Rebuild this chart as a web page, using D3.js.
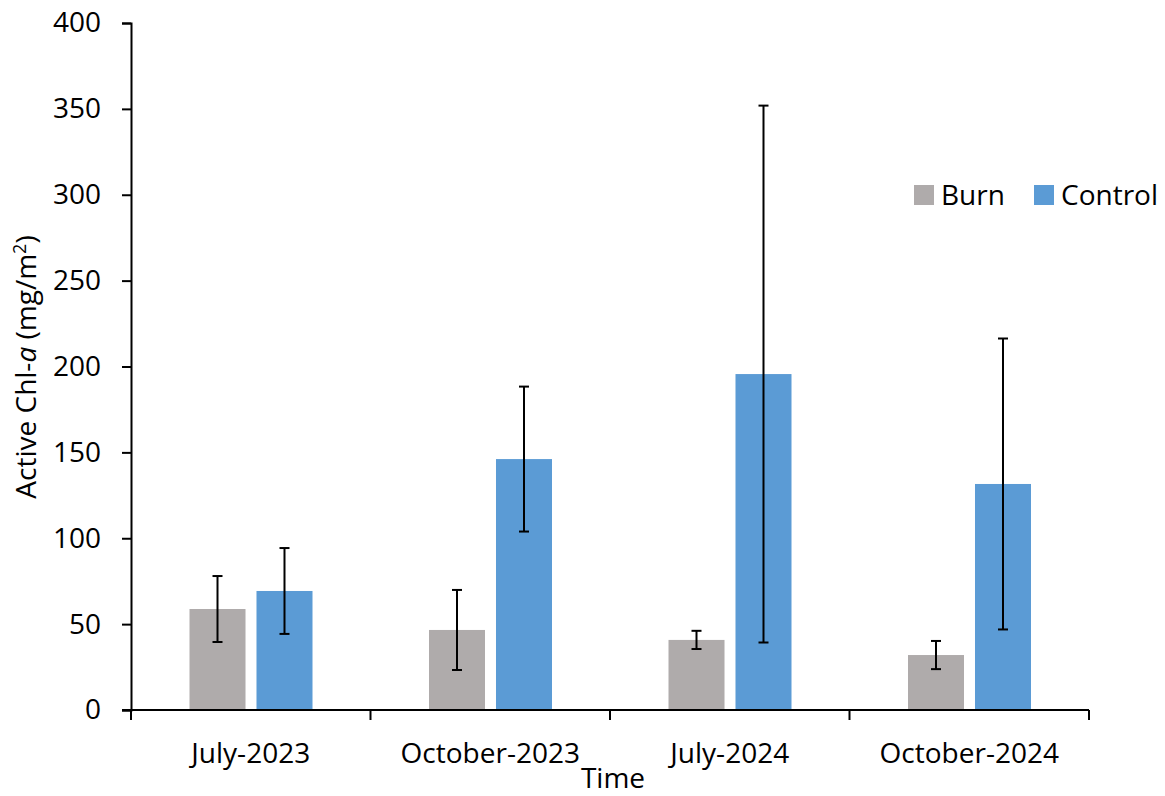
<!DOCTYPE html>
<html>
<head>
<meta charset="utf-8">
<script src="https://cdn.jsdelivr.net/npm/d3@7"></script>
<style>
  html, body { margin: 0; padding: 0; background: #fff; }
  svg { display: block; }
  text { font-family: "Open Sans", sans-serif; fill: #000; }
</style>
</head>
<body>
<svg id="chart" width="1165" height="796"></svg>
<script>
// Sampling times
const categories = ["July-2023", "October-2023", "July-2024", "October-2024"];
// Mean active chlorophyll-a (mg/m²) and standard deviations
const burnMean = [58.8, 46.6, 40.8, 32.0];
const burnSD = [19.2, 23.3, 5.3, 8.2];
const controlMean = [69.3, 146.1, 195.6, 131.6];
const controlSD = [25.0, 42.2, 156.3, 84.7];
const seriesNames = ["Burn", "Control"];
const seriesColors = ["#AFABAB", "#5B9BD5"];
const yTicks = [0, 50, 100, 150, 200, 250, 300, 350, 400];

const series = [
  { name: seriesNames[0], color: seriesColors[0], mean: burnMean, sd: burnSD },
  { name: seriesNames[1], color: seriesColors[1], mean: controlMean, sd: controlSD }
];

const FONT = 28;
const svg = d3.select("#chart");
const plot = { left: 131, right: 1089, top: 23, bottom: 710 };

const x = d3.scaleBand().domain(categories).range([plot.left, plot.right]).paddingInner(0).paddingOuter(0);
// Two bars per category, grouped in the middle of each band
const xInner = d3.scaleBand().domain(seriesNames).range([58.5, 181.5]).paddingInner(0.164).paddingOuter(0);
const y = d3.scaleLinear().domain([0, 400]).range([plot.bottom, plot.top]);

// Bars
series.forEach(s => {
  svg.append("g").selectAll("rect").data(categories).join("rect")
    .attr("x", (c) => x(c) + xInner(s.name))
    .attr("y", (c, i) => y(s.mean[i]))
    .attr("width", xInner.bandwidth())
    .attr("height", (c, i) => y(0) - y(s.mean[i]))
    .attr("fill", s.color);
});

// Error bars (± SD)
series.forEach(s => {
  const g = svg.append("g").attr("stroke", "#000").attr("stroke-width", 2);
  categories.forEach((c, i) => {
    const cx = x(c) + xInner(s.name) + xInner.bandwidth() / 2;
    const hi = y(s.mean[i] + s.sd[i]);
    const lo = y(s.mean[i] - s.sd[i]);
    g.append("line").attr("x1", cx).attr("x2", cx).attr("y1", hi).attr("y2", lo);
    g.append("line").attr("x1", cx - 5).attr("x2", cx + 5).attr("y1", hi).attr("y2", hi);
    g.append("line").attr("x1", cx - 5).attr("x2", cx + 5).attr("y1", lo).attr("y2", lo);
  });
});

// Y axis
const yAxis = svg.append("g")
  .attr("transform", `translate(${plot.left},0)`)
  .call(d3.axisLeft(y).tickValues(yTicks).tickSize(9).tickPadding(21));
yAxis.select(".domain").attr("stroke", "#000").attr("stroke-width", 2);
yAxis.selectAll(".tick line").attr("stroke", "#000").attr("stroke-width", 2);
yAxis.selectAll(".tick text").style("font-size", FONT + "px").style("font-family", "'Open Sans', sans-serif");

// X axis with boundary ticks between categories
const xAxis = svg.append("g").attr("transform", `translate(0,${plot.bottom})`);
xAxis.append("line").attr("x1", plot.left - 9).attr("x2", plot.right).attr("y1", 0).attr("y2", 0)
  .attr("stroke", "#000").attr("stroke-width", 2);
const bounds = categories.map(c => x(c)).concat([x(categories[categories.length - 1]) + x.bandwidth()]);
xAxis.selectAll("line.tk").data(bounds).join("line").attr("class", "tk")
  .attr("x1", d => d).attr("x2", d => d).attr("y1", 0).attr("y2", 10)
  .attr("stroke", "#000").attr("stroke-width", 2);
xAxis.selectAll("text").data(categories).join("text")
  .attr("x", c => x(c) + x.bandwidth() / 2)
  .attr("y", 53)
  .attr("text-anchor", "middle")
  .style("font-size", FONT + "px")
  .text(c => c);

// Axis titles
svg.append("text").attr("x", 613).attr("y", 788)
  .attr("text-anchor", "middle").style("font-size", FONT + "px").text("Time");

const yt = svg.append("text")
  .attr("transform", `translate(36,367) rotate(-90)`)
  .attr("text-anchor", "middle").style("font-size", FONT + "px");
yt.append("tspan").text("Active Chl-");
yt.append("tspan").style("font-style", "italic").text("a");
yt.append("tspan").text(" (mg/m");
yt.append("tspan").attr("dy", -10).style("font-size", "18px").text("2");
yt.append("tspan").attr("dy", 10).text(")");

// Legend
const legend = svg.append("g").attr("transform", "translate(914,185)");
const items = [{ n: seriesNames[0], c: seriesColors[0], dx: 0 }, { n: seriesNames[1], c: seriesColors[1], dx: 120 }];
items.forEach(it => {
  legend.append("rect").attr("x", it.dx).attr("y", 0).attr("width", 20).attr("height", 20).attr("fill", it.c);
  legend.append("text").attr("x", it.dx + 27).attr("y", 20).style("font-size", FONT + "px").text(it.n);
});
</script>
</body>
</html>
